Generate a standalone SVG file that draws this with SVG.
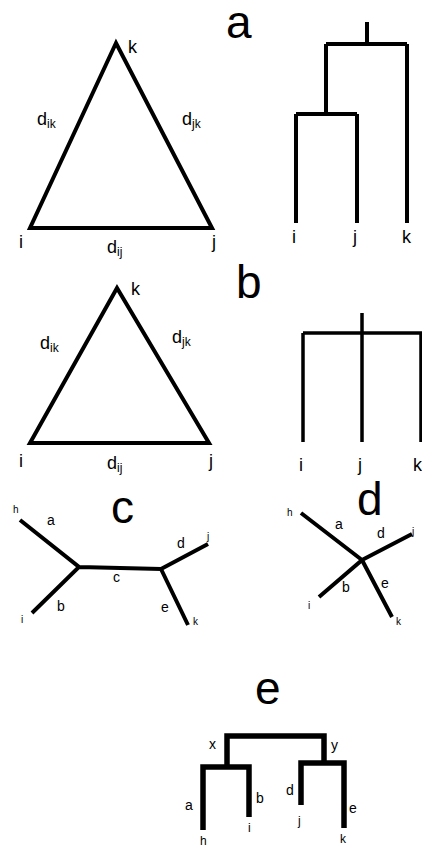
<svg xmlns="http://www.w3.org/2000/svg" width="422" height="848" viewBox="0 0 422 848">
<style>
text{font-family:"Liberation Sans",Arial,sans-serif;fill:#000}
.big{font-size:46px}
.lab{font-size:18px}
.sub{font-size:12px}
.sm{font-size:10px}
.mid{font-size:14px}
.ln{fill:none;stroke:#000;stroke-width:4;stroke-linejoin:miter;stroke-linecap:butt}
.th{stroke-width:5.5}
</style>
<rect width="422" height="848" fill="#fff"/>
<g id="titles">
<text class="big" x="226" y="38">a</text>
<text class="big" x="236" y="298">b</text>
<text class="big" x="111" y="523">c</text>
<text class="big" x="357" y="515">d</text>
<text class="big" x="255" y="704">e</text>
</g>
<g id="connectors">
<polygon class="ln" points="116,43 30,228 212,228"/>
<path class="ln" d="M367,22V44M326,44H407M326,44V114M296,114H357M296,114V223M357,114V223M407,44V223"/>
<polygon class="ln" points="117,288 30,443 209,443"/>
<path class="ln" style="stroke-width:3.5" d="M303,333H422M362,313V442M303,333V442M421,333V442"/>
<path class="ln" d="M20,520L79,567L32,613M79,567L161,569L208,544M161,569L188,625"/>
<path class="ln" d="M301,513L362,560L319,597M362,560L412,534M362,560L392,617"/>
<path class="ln th" d="M227,766V736H324V762M203,830V767H249V817M301,805V763H344V828"/>
</g>
<g id="panel-a-triangle">
<text class="lab" x="128" y="53">k</text>
<text class="lab" x="37" y="125">d<tspan class="sub" dy="3">ik</tspan></text>
<text class="lab" x="182" y="125">d<tspan class="sub" dy="3">jk</tspan></text>
<text class="lab" x="19" y="248">i</text>
<text class="lab" x="107" y="253">d<tspan class="sub" dy="3">ij</tspan></text>
<text class="lab" x="212" y="248">j</text>
</g>
<g id="panel-a-tree">
<text class="lab" x="292" y="243">i</text>
<text class="lab" x="353" y="243">j</text>
<text class="lab" x="402" y="243">k</text>
</g>
<g id="panel-b-triangle">
<text class="lab" x="131" y="295">k</text>
<text class="lab" x="40" y="349">d<tspan class="sub" dy="3">ik</tspan></text>
<text class="lab" x="172" y="343">d<tspan class="sub" dy="3">jk</tspan></text>
<text class="lab" x="19" y="467">i</text>
<text class="lab" x="107" y="469">d<tspan class="sub" dy="3">ij</tspan></text>
<text class="lab" x="209" y="467">j</text>
</g>
<g id="panel-b-tree">
<text class="lab" x="299" y="471">i</text>
<text class="lab" x="358" y="471">j</text>
<text class="lab" x="413" y="471">k</text>
</g>
<g id="panel-c">
<text class="sm" x="13" y="513">h</text>
<text class="mid" x="47" y="525">a</text>
<text class="mid" x="57" y="611">b</text>
<text class="mid" x="113" y="582">c</text>
<text class="mid" x="177" y="548">d</text>
<text class="sm" x="207" y="540">j</text>
<text class="mid" x="161" y="612">e</text>
<text class="sm" x="193" y="625">k</text>
<text class="sm" x="21" y="623">i</text>
</g>
<g id="panel-d">
<text class="sm" x="287" y="516">h</text>
<text class="mid" x="335" y="529">a</text>
<text class="mid" x="377" y="538">d</text>
<text class="sm" x="412" y="535">j</text>
<text class="mid" x="342" y="592">b</text>
<text class="mid" x="381" y="588">e</text>
<text class="sm" x="308" y="609">i</text>
<text class="sm" x="396" y="625">k</text>
</g>
<g id="panel-e">
<text class="mid" x="209" y="749">x</text>
<text class="mid" x="331" y="750">y</text>
<text class="mid" x="185" y="810">a</text>
<text class="mid" x="256" y="803">b</text>
<text class="mid" x="286" y="795">d</text>
<text class="mid" x="349" y="813">e</text>
<text class="sub" x="200" y="845">h</text>
<text class="sub" x="248" y="832">i</text>
<text class="sub" x="298" y="825">j</text>
<text class="sub" x="340" y="843">k</text>
</g>
</svg>
